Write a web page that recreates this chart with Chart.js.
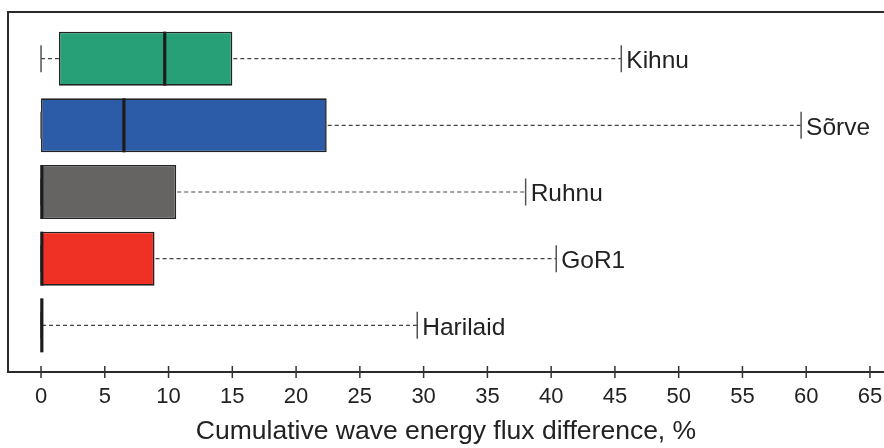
<!DOCTYPE html>
<html>
<head>
<meta charset="utf-8">
<script src="https://cdn.jsdelivr.net/npm/chart.js@4/dist/chart.umd.min.js"></script>
<style>
  html, body { margin: 0; padding: 0; background: #fff; }
  #wrap { width: 884px; height: 448px; }
</style>
</head>
<body>
<div id="wrap"><canvas id="c" width="884" height="448"></canvas></div>
<script>
// Station names, top to bottom
const stations = ['Kihnu', 'Sõrve', 'Ruhnu', 'GoR1', 'Harilaid'];
// Five-number summaries of the cumulative wave energy flux difference (%)
const whiskerLow  = [0,   0,    0,    0,   0];
const quartile1   = [1.4, 0,    0,    0,   0];
const medians     = [9.7, 6.5,  0,    0,   0];
const quartile3   = [15.0, 22.4, 10.6, 8.9, 0];
const whiskerHigh = [45.5, 59.6, 38.0, 40.4, 29.5];
// Box fills
const boxColors = ['#27a077', '#2c5ba8', '#656462', '#ee3124', '#ffffff'];
// Axis ticks
const xTickValues = [0, 5, 10, 15, 20, 25, 30, 35, 40, 45, 50, 55, 60, 65];
const xTitle = 'Cumulative wave energy flux difference, %';

Chart.defaults.font.family = '"Liberation Sans", Arial, Helvetica, sans-serif';
Chart.defaults.color = '#222';

const boxData = stations.map((s, i) => ({ y: i, x: [quartile1[i], quartile3[i]] }));

// Whiskers, caps, medians and station labels drawn on top of the boxes
const boxExtras = {
  id: 'boxExtras',
  afterDatasetsDraw(chart) {
    const ctx = chart.ctx;
    const xs = chart.scales.x, ys = chart.scales.y;
    const meta = chart.getDatasetMeta(0);
    ctx.save();
    stations.forEach((name, i) => {
      const yc = ys.getPixelForValue(i);
      const bar = meta.data[i];
      const h = bar.height;
      const capH = h * 0.5;
      const xLo = xs.getPixelForValue(whiskerLow[i]);
      const xQ1 = xs.getPixelForValue(quartile1[i]);
      const xQ3 = xs.getPixelForValue(quartile3[i]);
      const xHi = xs.getPixelForValue(whiskerHigh[i]);
      const xMed = xs.getPixelForValue(medians[i]);

      // dashed whiskers
      ctx.strokeStyle = '#444';
      ctx.lineWidth = 1.2;
      ctx.setLineDash([4, 3]);
      ctx.beginPath();
      if (xQ1 > xLo + 1) { ctx.moveTo(xLo, yc); ctx.lineTo(xQ1, yc); }
      ctx.moveTo(xQ3 + 1, yc); ctx.lineTo(xHi, yc);
      ctx.stroke();
      ctx.setLineDash([]);

      // whisker caps
      ctx.strokeStyle = '#555';
      ctx.lineWidth = 1.5;
      ctx.beginPath();
      ctx.moveTo(xLo, yc - capH / 2); ctx.lineTo(xLo, yc + capH / 2);
      ctx.moveTo(xHi, yc - capH / 2); ctx.lineTo(xHi, yc + capH / 2);
      ctx.stroke();

      // median
      ctx.strokeStyle = '#1c1c1c';
      ctx.lineWidth = 3.2;
      ctx.beginPath();
      const mx = Math.max(xMed, xs.getPixelForValue(0) + 0.8);
      ctx.moveTo(mx, yc - h / 2); ctx.lineTo(mx, yc + h / 2);
      ctx.stroke();

      // station label
      ctx.fillStyle = '#222';
      ctx.font = '24.5px "Liberation Sans", Arial, sans-serif';
      ctx.textBaseline = 'middle';
      ctx.textAlign = 'left';
      ctx.fillText(name, xHi + 5, yc + 2.5);
    });
    ctx.restore();
  },
  afterDraw(chart) {
    const ctx = chart.ctx;
    const a = chart.chartArea;
    const xs = chart.scales.x;
    ctx.save();
    // frame: top, left, bottom axis line
    ctx.strokeStyle = '#2a2a2a';
    ctx.lineWidth = 2;
    ctx.beginPath();
    ctx.moveTo(chart.width, a.top); ctx.lineTo(a.left, a.top);
    ctx.lineTo(a.left, a.bottom); ctx.lineTo(chart.width, a.bottom);
    ctx.stroke();
    // tick marks crossing the axis line
    ctx.strokeStyle = '#333';
    ctx.lineWidth = 1.5;
    ctx.beginPath();
    xs.ticks.forEach(t => {
      const px = xs.getPixelForValue(t.value);
      ctx.moveTo(px, a.bottom - 6); ctx.lineTo(px, a.bottom + 6);
    });
    ctx.stroke();
    ctx.restore();
  }
};

new Chart(document.getElementById('c'), {
  type: 'bar',
  data: {
    datasets: [{
      data: boxData,
      backgroundColor: boxColors,
      borderColor: '#222',
      borderWidth: 1.6,
      borderSkipped: false,
      barPercentage: 0.81,
      categoryPercentage: 1
    }]
  },
  options: {
    indexAxis: 'y',
    responsive: false,
    animation: false,
    layout: { padding: { left: 8, top: 12, right: 0, bottom: 0 } },
    plugins: { legend: { display: false }, tooltip: { enabled: false } },
    scales: {
      y: {
        type: 'linear',
        min: -0.7,
        max: 4.7,
        reverse: true,
        offset: false,
        display: false,
        afterBuildTicks: s => { s.ticks = stations.map((n, i) => ({ value: i })); }
      },
      x: {
        type: 'linear',
        min: -2.59,
        max: 66.1,
        offset: false,
        grid: { display: false },
        border: { display: false },
        afterBuildTicks: s => { s.ticks = xTickValues.map(v => ({ value: v })); },
        afterFit: s => { s.height = 76; s.paddingLeft = 0; s.paddingRight = 0; },
        ticks: {
          padding: 4,
          maxRotation: 0,
          autoSkip: false,
          font: { size: 22 },
          color: '#222'
        },
        title: {
          display: true,
          text: xTitle,
          font: { size: 26.5 },
          color: '#222',
          padding: { top: 0, bottom: 0 }
        }
      }
    }
  },
  plugins: [boxExtras]
});
</script>
</body>
</html>
